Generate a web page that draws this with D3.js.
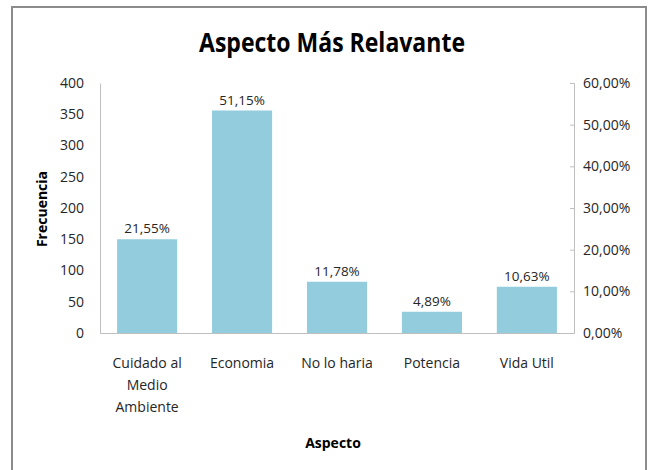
<!DOCTYPE html>
<html>
<head>
<meta charset="utf-8">
<script src="https://cdn.jsdelivr.net/npm/d3@7"></script>
<style>
  html, body { margin: 0; padding: 0; background: #fff; }
  svg { display: block; }
  text { font-family: "Open Sans", "Liberation Sans", sans-serif; }
</style>
</head>
<body>
<svg id="chart" width="650" height="470"></svg>
<script>
const categories = [["Cuidado al", "Medio", "Ambiente"], ["Economia"], ["No lo haria"], ["Potencia"], ["Vida Util"]];
const frequencies = [150, 356, 82, 34, 74];
const percentLabels = ["21,55%", "51,15%", "11,78%", "4,89%", "10,63%"];
const leftTicks = [0, 50, 100, 150, 200, 250, 300, 350, 400];
const rightTicks = [0, 0.1, 0.2, 0.3, 0.4, 0.5, 0.6];
const rightTickLabels = ["0,00%", "10,00%", "20,00%", "30,00%", "40,00%", "50,00%", "60,00%"];

const svg = d3.select("#chart");
const m = { left: 100, right: 574, top: 83, bottom: 333 };

// outer frame
svg.append("rect").attr("x", 12).attr("y", 7).attr("width", 634).attr("height", 480)
  .attr("fill", "#fff").attr("stroke", "#8c8c8c").attr("stroke-width", 2);

const x = d3.scaleBand().domain(d3.range(categories.length)).range([m.left, m.right]).paddingInner(0.367).paddingOuter(0.18);
const y = d3.scaleLinear().domain([0, 400]).range([m.bottom, m.top]);
const y2 = d3.scaleLinear().domain([0, 0.6]).range([m.bottom, m.top]);

// title
svg.append("text").attr("x", 332).attr("y", 52).attr("text-anchor", "middle")
  .attr("font-size", 26).attr("font-weight", "bold").attr("fill", "#000")
  .attr("textLength", 266).attr("lengthAdjust", "spacingAndGlyphs")
  .text("Aspecto Más Relavante");

// bars
svg.append("g").selectAll("rect").data(frequencies).join("rect")
  .attr("x", (d, i) => x(i)).attr("width", x.bandwidth())
  .attr("y", d => y(d)).attr("height", d => y(0) - y(d))
  .attr("fill", "#93cddd");

// data labels
svg.append("g").selectAll("text").data(frequencies).join("text")
  .attr("x", (d, i) => x(i) + x.bandwidth() / 2).attr("y", d => y(d) - 6)
  .attr("text-anchor", "middle").attr("font-size", 13.5).attr("fill", "#262626")
  .text((d, i) => percentLabels[i]);

// left axis
const gl = svg.append("g").attr("transform", `translate(${m.left},0)`)
  .call(d3.axisLeft(y).tickValues(leftTicks).tickSize(0).tickPadding(16));
gl.select(".domain").attr("stroke", "#bfbfbf");
gl.selectAll("text").attr("font-size", 14).attr("fill", "#262626")
  .attr("font-family", "'Open Sans', sans-serif");

// right axis
const gr = svg.append("g").attr("transform", `translate(${m.right},0)`)
  .call(d3.axisRight(y2).tickValues(rightTicks).tickSize(-4).tickPadding(9)
    .tickFormat((d, i) => rightTickLabels[i]));
gr.select(".domain").attr("stroke", "#bfbfbf");
gr.selectAll("line").attr("stroke", "#bfbfbf");
gr.selectAll("text").attr("font-size", 14).attr("fill", "#262626")
  .attr("font-family", "'Open Sans', sans-serif");

// x axis
const gx = svg.append("g").attr("transform", `translate(0,${m.bottom})`)
  .call(d3.axisBottom(x).tickSize(0).tickFormat(""));
gx.select(".domain").attr("stroke", "#bfbfbf");

// category labels
const cl = svg.append("g").selectAll("text").data(categories).join("text")
  .attr("x", (d, i) => x(i) + x.bandwidth() / 2).attr("y", 368)
  .attr("text-anchor", "middle").attr("font-size", 14).attr("fill", "#262626");
cl.selectAll("tspan").data(d => d).join("tspan")
  .attr("x", function () { return d3.select(this.parentNode).attr("x"); })
  .attr("dy", (d, i) => i === 0 ? 0 : 22)
  .text(d => d);

// axis titles
svg.append("text").attr("x", 333).attr("y", 448).attr("text-anchor", "middle")
  .attr("font-size", 14).attr("font-weight", "bold").attr("fill", "#000").text("Aspecto");
svg.append("text").attr("transform", "translate(47,209) rotate(-90)").attr("text-anchor", "middle")
  .attr("font-size", 14).attr("font-weight", "bold").attr("fill", "#000").text("Frecuencia");
</script>
</body>
</html>
